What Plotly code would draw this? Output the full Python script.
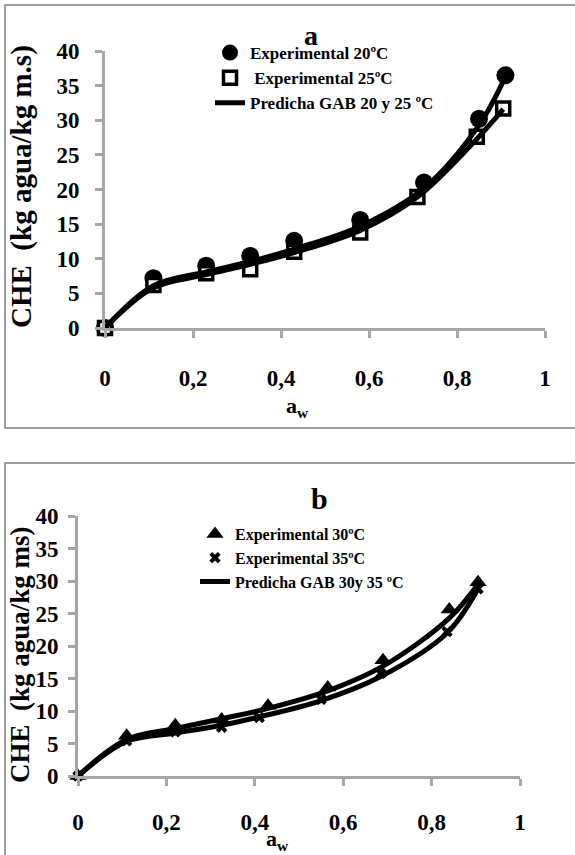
import plotly.graph_objects as go

W, H = 575, 855

# ---------------- data (panel a) ----------------
aw_20 = [0, 0.11, 0.23, 0.33, 0.43, 0.58, 0.725, 0.85, 0.91]
che_20 = [0, 7.2, 9.0, 10.4, 12.6, 15.6, 21.0, 30.2, 36.5]
aw_25 = [0, 0.11, 0.23, 0.33, 0.43, 0.58, 0.71, 0.845, 0.905]
che_25 = [0, 6.2, 7.9, 8.5, 11.0, 13.8, 18.9, 27.6, 31.7]
aw_pred_a20 = [0, 0.11, 0.23, 0.33, 0.43, 0.58, 0.725, 0.85, 0.91]
pred_a20 = [0, 6.1, 8.1, 9.6, 11.4, 14.7, 20.2, 29.3, 36.3]
aw_pred_a25 = [0, 0.11, 0.23, 0.33, 0.43, 0.58, 0.71, 0.845, 0.905]
pred_a25 = [0, 5.8, 7.7, 9.2, 10.9, 14.1, 18.9, 27.3, 31.6]

# ---------------- data (panel b) ----------------
aw_30 = [0, 0.11, 0.22, 0.325, 0.43, 0.565, 0.69, 0.84, 0.905]
che_30 = [0, 6.2, 7.8, 8.7, 10.8, 13.6, 17.8, 25.6, 29.8]
aw_35 = [0, 0.11, 0.22, 0.325, 0.41, 0.55, 0.685, 0.835, 0.905]
che_35 = [0, 5.4, 6.8, 7.5, 9.0, 11.8, 15.8, 22.2, 28.8]
aw_pred_b30 = [0, 0.11, 0.22, 0.325, 0.43, 0.565, 0.69, 0.84, 0.905]
pred_b30 = [0, 5.6, 7.3, 8.8, 10.4, 13.1, 16.9, 24.3, 29.5]
aw_pred_b35 = [0, 0.11, 0.22, 0.325, 0.41, 0.55, 0.685, 0.835, 0.905]
pred_b35 = [0, 5.3, 6.6, 7.8, 9.1, 11.6, 15.3, 22.0, 28.8]

y_ticks = [0, 5, 10, 15, 20, 25, 30, 35, 40]
x_ticks = [0, 0.2, 0.4, 0.6, 0.8, 1]

SERIF = "Liberation Serif, Times New Roman, serif"


def px(x):
    return x / W


def py(y):
    return 1 - y / H


fig = go.Figure()

# panel a traces
fig.add_trace(go.Scatter(x=aw_20, y=che_20, mode="markers", name="Experimental 20ºC",
                         marker=dict(symbol="circle", size=18, color="black"),
                         xaxis="x", yaxis="y", legend="legend", legendgroup="a1", cliponaxis=False))
fig.add_trace(go.Scatter(x=aw_25, y=che_25, mode="markers", name=" Experimental 25ºC",
                         marker=dict(symbol="square", size=13, color="white",
                                     line=dict(color="black", width=3.5)),
                         xaxis="x", yaxis="y", legend="legend", legendgroup="a2", cliponaxis=False))
fig.add_trace(go.Scatter(x=aw_pred_a20, y=pred_a20, mode="lines", name="Predicha GAB 20 y 25 ºC",
                         line=dict(color="black", width=5, shape="spline", smoothing=1),
                         xaxis="x", yaxis="y", legend="legend", legendgroup="a3", cliponaxis=False))
fig.add_trace(go.Scatter(x=aw_pred_a25, y=pred_a25, mode="lines", showlegend=False,
                         line=dict(color="black", width=5, shape="spline", smoothing=1),
                         xaxis="x", yaxis="y", legendgroup="a3", cliponaxis=False))

# panel b traces
fig.add_trace(go.Scatter(x=aw_30, y=che_30, mode="markers", name="Experimental 30ºC",
                         marker=dict(symbol="triangle-up", size=15, color="black"),
                         xaxis="x2", yaxis="y2", legend="legend2", legendgroup="b1", cliponaxis=False))
fig.add_trace(go.Scatter(x=aw_35, y=che_35, mode="markers", name="Experimental 35ºC",
                         marker=dict(symbol="x", size=10, color="black"),
                         xaxis="x2", yaxis="y2", legend="legend2", legendgroup="b2", cliponaxis=False))
fig.add_trace(go.Scatter(x=aw_pred_b30, y=pred_b30, mode="lines", name="Predicha GAB 30y 35 ºC",
                         line=dict(color="black", width=5, shape="spline", smoothing=1),
                         xaxis="x2", yaxis="y2", legend="legend2", legendgroup="b3", cliponaxis=False))
fig.add_trace(go.Scatter(x=aw_pred_b35, y=pred_b35, mode="lines", showlegend=False,
                         line=dict(color="black", width=5, shape="spline", smoothing=1),
                         xaxis="x2", yaxis="y2", legendgroup="b3", cliponaxis=False))

AX_COL = "#a6a6a6"
tickfont = dict(family=SERIF, size=23, color="black", weight="bold")


def xaxis(domain, anchor, standoff):
    return dict(domain=domain, anchor=anchor, range=[0, 1], tickvals=x_ticks,
                showgrid=False, zeroline=False, showline=True, linecolor=AX_COL, linewidth=3,
                ticks="outside", ticklen=7, tickwidth=3, tickcolor=AX_COL,
                tickfont=tickfont, ticklabelstandoff=standoff, automargin=False, fixedrange=True)


def yaxis(domain, anchor, standoff):
    return dict(domain=domain, anchor=anchor, range=[0, 40], tickvals=y_ticks,
                showgrid=False, zeroline=False, showline=True, linecolor=AX_COL, linewidth=3,
                ticks="outside", ticklen=7, tickwidth=3, tickcolor=AX_COL,
                tickfont=tickfont, ticklabelstandoff=standoff, automargin=False, fixedrange=True)


fig.update_layout(
    width=W, height=H, margin=dict(l=0, r=0, t=0, b=0, autoexpand=False),
    paper_bgcolor="white", plot_bgcolor="white",
    separators=",.",
    xaxis=xaxis([px(105), px(545)], "y", 20),
    yaxis=yaxis([py(328), py(51)], "x", 11),
    xaxis2=xaxis([px(78), px(520)], "y2", 16),
    yaxis2=yaxis([py(776), py(516)], "x2", 5),
    legend=dict(x=px(210), y=py(35), xanchor="left", yanchor="top", bgcolor="rgba(0,0,0,0)",
                font=dict(family=SERIF, size=17, color="black", weight="bold"),
                traceorder="grouped", tracegroupgap=0, itemwidth=30),
    legend2=dict(x=px(195), y=py(517), xanchor="left", yanchor="top", bgcolor="rgba(0,0,0,0)",
                 font=dict(family=SERIF, size=16, color="black", weight="bold"),
                 traceorder="grouped", tracegroupgap=0, itemwidth=30),
    showlegend=True,
)

shapes = [
    dict(type="rect", xref="paper", yref="paper", x0=px(5), y0=py(428), x1=px(590), y1=py(5),
         line=dict(color="#7f7f7f", width=1.5)),
    dict(type="rect", xref="paper", yref="paper", x0=px(5), y0=py(870), x1=px(590), y1=py(463),
         line=dict(color="#7f7f7f", width=1.5)),
]

ann = [
    dict(text="a", x=px(311), y=py(35), font=dict(family=SERIF, size=28, weight="bold")),
    dict(text="b", x=px(319), y=py(498), font=dict(family=SERIF, size=30, weight="bold")),
    dict(text="a<sub>w</sub>", x=px(297), y=py(407), font=dict(family=SERIF, size=22, weight="bold")),
    dict(text="a<sub>w</sub>", x=px(277), y=py(840), font=dict(family=SERIF, size=22, weight="bold")),
    dict(text="CHE  (kg agua/kg m.s)", x=px(22), y=py(187), textangle=-90,
         font=dict(family=SERIF, size=29, weight="bold")),
    dict(text="CHE  (kg agua/kg ms)", x=px(20), y=py(655), textangle=-90,
         font=dict(family=SERIF, size=27, weight="bold")),
]
for a in ann:
    a.update(xref="paper", yref="paper", showarrow=False, xanchor="center", yanchor="middle")
    a["font"].setdefault("color", "black")

fig.update_layout(shapes=shapes, annotations=ann)

fig.write_html(
    "out.html",
    config={"displayModeBar": False, "staticPlot": False},
    post_script="document.body.style.margin='0px';document.documentElement.style.overflow='hidden';",
)
